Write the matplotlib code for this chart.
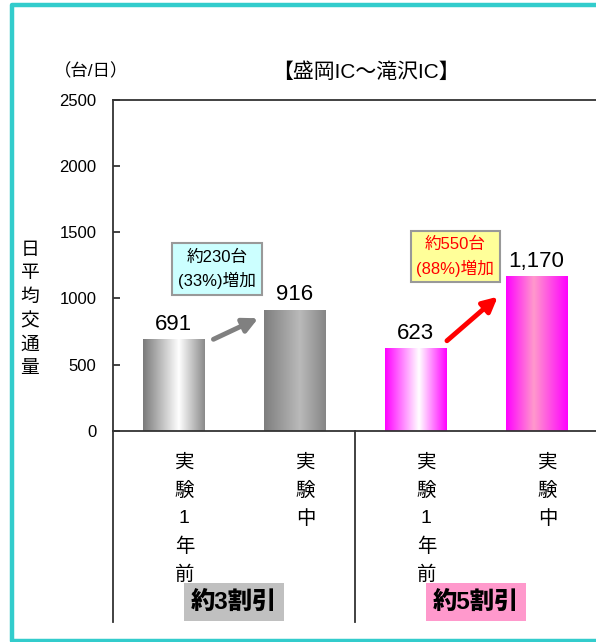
import matplotlib
matplotlib.use("Agg")
import matplotlib.pyplot as plt
import numpy as np
from matplotlib.colors import LinearSegmentedColormap
from matplotlib.lines import Line2D
from matplotlib.transforms import blended_transform_factory

plt.rcParams['font.family'] = ['Liberation Sans', 'Noto Sans CJK JP']

# daily traffic, Morioka IC - Takizawa IC
periods = ['実験1年前', '実験中', '実験1年前', '実験中']
volumes = [691, 916, 623, 1170]
volume_labels = ['691', '916', '623', '1,170']
discounts = ['約3割引', '約5割引']
increases = ['約230台\n(33%)増加', '約550台\n(88%)増加']
yticks = [0, 500, 1000, 1500, 2000, 2500]

# horizontal gradient stops for each bar
shades = [
    [(0, '#7a7a7a'), (0.58, '#ffffff'), (1, '#8a8a8a')],
    [(0, '#7e7e7e'), (0.58, '#bababa'), (1, '#868686')],
    [(0, '#ff00ff'), (0.55, '#ffffff'), (1, '#ff00ff')],
    [(0, '#ff00ff'), (0.45, '#ff99cc'), (1, '#ff00ff')],
]
W, H = 596, 642

fig = plt.figure(figsize=(W / 100, H / 100), dpi=100)
ax = fig.add_axes([113 / W, (H - 430.7) / H, (597 - 113) / W, 330.7 / H])

x = np.arange(len(volumes))
bars = ax.bar(x, volumes, width=0.51, color='none', edgecolor='none', zorder=2)
grad = np.linspace(0, 1, 256).reshape(1, -1)
for b, stops in zip(bars, shades):
    cmap = LinearSegmentedColormap.from_list('g', stops)
    x0, y0 = b.get_x(), b.get_y()
    im = ax.imshow(grad, cmap=cmap, aspect='auto', interpolation='bilinear',
                   extent=[x0, x0 + b.get_width(), y0, y0 + b.get_height()], zorder=2)
    im.set_clip_path(b)

ax.bar_label(bars, labels=volume_labels, padding=3, fontsize=16)

ax.set_xlim(-0.5, 3.5)
ax.set_ylim(0, 2500)
ax.set_yticks(yticks)
ax.set_xticks([])
ax.tick_params(axis='y', direction='in', length=5, width=1.2, pad=12, labelsize=12,
               color='#222222')
for side in ['left', 'bottom', 'top']:
    ax.spines[side].set_linewidth(1.3)
    ax.spines[side].set_color('#333333')
ax.spines['right'].set_visible(False)

# category axis below the plot
tr = blended_transform_factory(ax.transData, ax.transAxes)
for xv in [-0.5, 1.5, 3.5]:
    ax.plot([xv, xv], [0, -0.578], transform=tr, color='#333333', lw=1.3,
            clip_on=False)
for xv, name in zip(x, periods):
    ax.text(xv + 0.09, -0.073, '\n'.join(name), transform=tr, ha='center', va='top',
            ma='center', fontsize=14, linespacing=1.72)
for i, (name, fc) in enumerate(zip(discounts, ['#c0c0c0', '#ff99cc'])):
    ax.text(2 * i + 0.5, -0.518, name, transform=tr, ha='center', va='center',
            fontsize=17.5, fontweight='heavy',
            bbox=dict(boxstyle='square,pad=0.3', fc=fc, ec='none'))

# increase call-outs
ax.annotate('', xy=(0.70, 850), xytext=(0.33, 691),
            arrowprops=dict(arrowstyle='-|>', color='#808080', lw=3.5,
                            mutation_scale=22, shrinkA=0, shrinkB=0))
ax.annotate('', xy=(2.68, 1013), xytext=(2.26, 680),
            arrowprops=dict(arrowstyle='-|>', color='#ff0000', lw=3.5,
                            mutation_scale=22, shrinkA=0, shrinkB=0))
ax.text(0.36, 1222, increases[0], ha='center', va='center', ma='center', fontsize=12,
        linespacing=1.5, color='black',
        bbox=dict(boxstyle='square,pad=0.35', fc='#ccffff', ec='#999999', lw=1.5))
ax.text(2.33, 1315, increases[1], ha='center', va='center', ma='center', fontsize=12,
        linespacing=1.5, color='#ff0000',
        bbox=dict(boxstyle='square,pad=0.35', fc='#ffff99', ec='#999999', lw=1.5))

fig.text(366 / W, 1 - 72 / H, '【盛岡IC～滝沢IC】', ha='center', va='center', fontsize=15)
fig.text(91 / W, 1 - 71 / H, '（台/日）', ha='center', va='center', fontsize=12.5)
fig.text(30 / W, 1 - 309.5 / H, '\n'.join('日平均交通量'), ha='center', va='center',
         fontsize=13.5, linespacing=1.5)

# frame around the panel: left, top and bottom edges only
frame_x = [W + 10, 12, 12, W + 10]
frame_y = [4.5, 4.5, 640.5, 640.5]
fig.lines.append(Line2D([v / W for v in frame_x], [1 - v / H for v in frame_y],
                        transform=fig.transFigure, color='#33cccc', lw=3.2))

fig.savefig('out.png', dpi=100)
